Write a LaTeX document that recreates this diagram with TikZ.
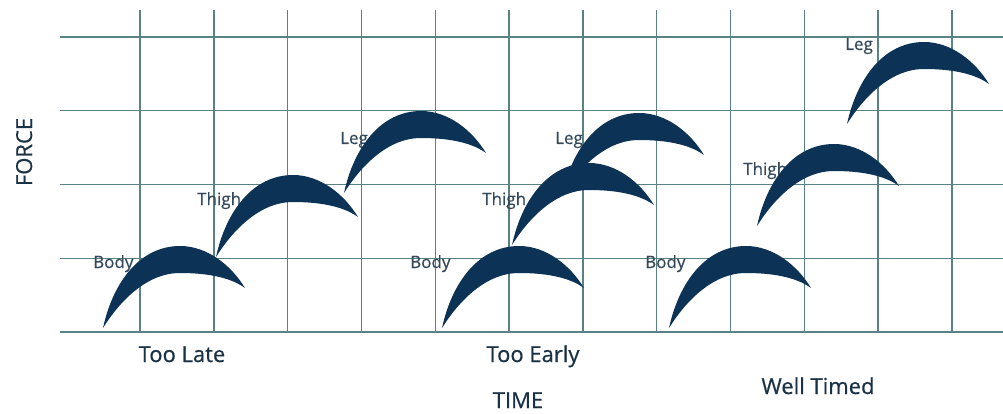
\documentclass[tikz,border=0pt]{standalone}
\usepackage{fontspec}
\setmainfont{Open Sans}
\newfontfamily\boldishfont[FakeBold=0.5]{Open Sans}
\definecolor{gridc}{RGB}{88,130,132}
\definecolor{navy}{RGB}{12,50,86}
\definecolor{labc}{RGB}{52,74,92}
\definecolor{titc}{RGB}{26,50,70}
\begin{document}
\begin{tikzpicture}[x=1pt,y=-1pt,
  gridline/.style={gridc,line width=1.4pt},
  lab/.style={text=labc,font=\boldishfont\fontsize{17}{17}\selectfont,inner sep=0pt,anchor=base west},
  tit/.style={text=titc,font=\boldishfont\fontsize{22}{22}\selectfont,inner sep=0pt,anchor=base},
  crescent/.pic={\fill[navy] (0,0) .. controls (10,-46) and (37,-82) .. (77,-82)
     .. controls (104,-82) and (128,-63) .. (142,-40)
     .. controls (127,-51) and (103,-55) .. (77,-55)
     .. controls (42,-55) and (15,-24) .. (0,0) -- cycle;}]
\useasboundingbox (0,0) rectangle (1003,414);
\fill[white] (0,0) rectangle (1003,414);
\foreach \i in {0,...,11} \draw[gridline] ({140+73.8*\i},10) -- ({140+73.8*\i},332);
\foreach \j in {0,...,4} \draw[gridline] (60,{37+73.75*\j}) -- (1003,{37+73.75*\j});
% labels (under crescents)
\node[lab] (tlbody) at (93,268) {Body};
\node[lab] (tlthigh) at (197,205) {Thigh};
\node[lab] (tlleg) at (340,144) {Leg};
\node[lab] (tebody) at (410,268) {Body};
\node[lab] (tethigh) at (482,205) {Thigh};
\node[lab] (teleg) at (555,144) {Leg};
\node[lab] (wtbody) at (645,268) {Body};
\node[lab] (wtthigh) at (743,175) {Thigh};
\node[lab] (wtleg) at (845,50) {Leg};
% crescents
\pic (c1) at (103,328) {crescent};
\pic (c2) at (216,257) {crescent};
\pic (c3) at (344,193) {crescent};
\pic (c4) at (442,328) {crescent};
\pic (c5) at (512,245) {crescent};
\pic (c6) at (562,195) {crescent};
\pic (c7) at (669,328) {crescent};
\pic (c8) at (757,226) {crescent};
\pic (c9) at (847,124) {crescent};
% titles
\node[tit] (late) at (182,362) {Too Late};
\node[tit] (early) at (533,362) {Too Early};
\node[tit] (time) at (518,408) {TIME};
\node[tit] (well) at (818,394) {Well Timed};
\node[tit,rotate=90] (force) at (32,152) {FORCE};
\end{tikzpicture}
\end{document}
